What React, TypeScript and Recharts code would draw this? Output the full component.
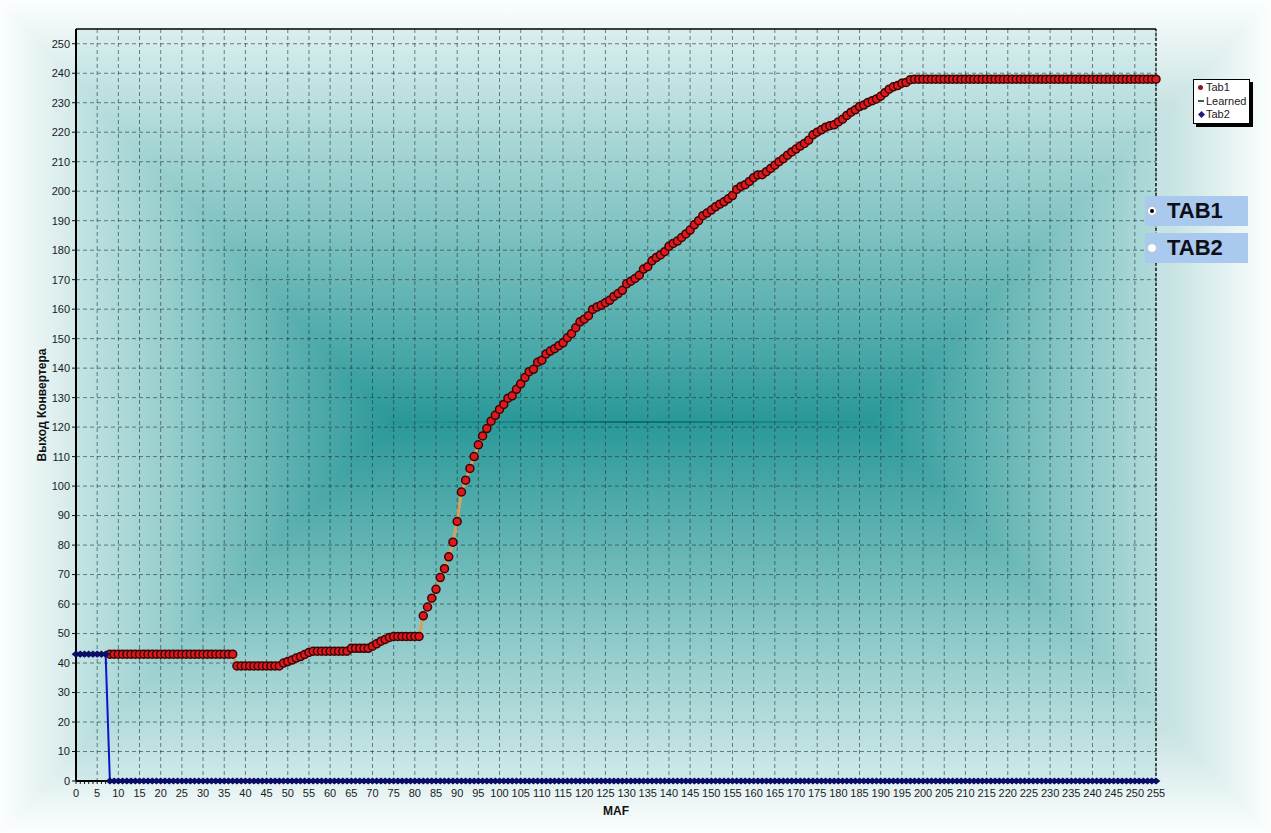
import { LineChart, Line, XAxis, YAxis, CartesianGrid, ReferenceLine, Legend } from "recharts";

const FONT = '"Liberation Sans", Arial, sans-serif';
const W = 1271;
const H = 833;

// Выход конвертера, MAF = индекс 0..255 (Tab1 на 0..7 не видна — её перекрывает Tab2)
const tab1 = [
  null, null, null, null, null, null, null, null, 43, 43,
  43, 43, 43, 43, 43, 43, 43, 43, 43, 43,
  43, 43, 43, 43, 43, 43, 43, 43, 43, 43,
  43, 43, 43, 43, 43, 43, 43, 43,
  39, 39, 39, 39, 39, 39, 39, 39, 39, 39, 39,
  40, 40.5, 41, 41.7, 42.2, 42.9, 43.6,
  44, 44, 44, 44, 44, 44, 44, 44, 44,
  45, 45, 45, 45, 45,
  45.7, 46.5, 47.4, 48, 48.7,
  49, 49, 49, 49, 49, 49, 49,
  56, 59, 62, 65, 69, 72, 76, 81, 88, 98,
  102, 106, 110, 114, 117, 119.5, 122, 124, 126, 127.7,
  129.8, 130.6, 132.8, 134.7, 136.8, 138.8, 139.6, 142, 142.7, 144.8,
  145.8, 146.6, 147.6, 148.6, 150.3, 151.7, 153.7, 155.7, 156.6, 157.8,
  159.9, 160.7, 161.3, 162.2, 163, 164.3, 165.3, 166.4, 168.6, 169.5,
  170.4, 171.5, 173.6, 174.4, 176.4, 177.5, 178.4, 179.5, 181.3, 182.3,
  183.1, 184.3, 185.5, 186.8, 188.6, 190, 191.7, 192.6, 193.6, 194.7,
  195.6, 196.4, 197.4, 198.5, 200.6, 201.6, 202.2, 203.3, 204.6, 205.5,
  205.6, 206.6, 207.7, 208.8, 210, 211, 212.2, 213.3, 214.3, 215.3,
  216.2, 217.3, 219.1, 220, 220.8, 221.7, 222.2, 222.5, 223.5, 224.4,
  225.7, 226.8, 227.6, 228.7, 229.2, 230.1, 230.7, 231.3, 232.2, 233.4,
  234.6, 235.4, 235.8, 236.6, 236.9, 237.8,
  238, 238, 238, 238, 238, 238, 238, 238, 238, 238,
  238, 238, 238, 238, 238, 238, 238, 238, 238, 238,
  238, 238, 238, 238, 238, 238, 238, 238, 238, 238,
  238, 238, 238, 238, 238, 238, 238, 238, 238, 238,
  238, 238, 238, 238, 238, 238, 238, 238, 238, 238,
  238, 238, 238, 238, 238, 238, 238, 238,
];

const tab2 = [
  43, 43, 43, 43, 43, 43, 43, 43,
  0, 0, 0, 0, 0, 0, 0, 0, 0, 0, 0, 0, 0, 0, 0, 0, 0, 0, 0, 0,
  0, 0, 0, 0, 0, 0, 0, 0, 0, 0, 0, 0, 0, 0, 0, 0, 0, 0, 0, 0,
  0, 0, 0, 0, 0, 0, 0, 0, 0, 0, 0, 0, 0, 0, 0, 0, 0, 0, 0, 0,
  0, 0, 0, 0, 0, 0, 0, 0, 0, 0, 0, 0, 0, 0, 0, 0, 0, 0, 0, 0,
  0, 0, 0, 0, 0, 0, 0, 0, 0, 0, 0, 0, 0, 0, 0, 0, 0, 0, 0, 0,
  0, 0, 0, 0, 0, 0, 0, 0, 0, 0, 0, 0, 0, 0, 0, 0, 0, 0, 0, 0,
  0, 0, 0, 0, 0, 0, 0, 0, 0, 0, 0, 0, 0, 0, 0, 0, 0, 0, 0, 0,
  0, 0, 0, 0, 0, 0, 0, 0, 0, 0, 0, 0, 0, 0, 0, 0, 0, 0, 0, 0,
  0, 0, 0, 0, 0, 0, 0, 0, 0, 0, 0, 0, 0, 0, 0, 0, 0, 0, 0, 0,
  0, 0, 0, 0, 0, 0, 0, 0, 0, 0, 0, 0, 0, 0, 0, 0, 0, 0, 0, 0,
  0, 0, 0, 0, 0, 0, 0, 0, 0, 0, 0, 0, 0, 0, 0, 0, 0, 0, 0, 0,
  0, 0, 0, 0, 0, 0, 0, 0, 0, 0, 0, 0, 0, 0, 0, 0, 0, 0, 0, 0,
  0, 0, 0, 0, 0, 0, 0, 0,
];

const xTicks = [
  0, 5, 10, 15, 20, 25, 30, 35, 40, 45, 50, 55, 60, 65, 70, 75, 80, 85, 90, 95,
  100, 105, 110, 115, 120, 125, 130, 135, 140, 145, 150, 155, 160, 165, 170, 175,
  180, 185, 190, 195, 200, 205, 210, 215, 220, 225, 230, 235, 240, 245, 250, 255,
];
const yTicks = [
  0, 10, 20, 30, 40, 50, 60, 70, 80, 90, 100, 110, 120, 130, 140, 150, 160, 170,
  180, 190, 200, 210, 220, 230, 240, 250,
];
const legendOrder = ["Tab1", "Learned", "Tab2"];
const tabNames = ["TAB1", "TAB2"];

const data = tab1.map((v, i) => ({ maf: i, tab1: v, tab2: tab2[i] }));
const minorTicks = data.map((d) => d.maf);

// фон: прямоугольный "path gradient" с фокусом-линией посередине
const FOCUS = { x0: 393, x1: 873, y: 422 };
const PLOT = { left: 76, top: 29, width: 1080, height: 752 };

function Facets({ id, stops }: { id: string; stops: [number, string][] }) {
  const { x0, x1, y } = FOCUS;
  const parts = [
    { k: "t", g: [0, 0, 0, y], pts: `0,0 ${W},0 ${x1},${y} ${x0},${y}` },
    { k: "b", g: [0, H, 0, y], pts: `0,${H} ${W},${H} ${x1},${y} ${x0},${y}` },
    { k: "l", g: [0, 0, x0, 0], pts: `0,0 0,${H} ${x0},${y}` },
    { k: "r", g: [W, 0, x1, 0], pts: `${W},0 ${W},${H} ${x1},${y}` },
  ];
  return (
    <g>
      <defs>
        {parts.map((p) => (
          <linearGradient
            key={p.k}
            id={`${id}-${p.k}`}
            gradientUnits="userSpaceOnUse"
            x1={p.g[0]}
            y1={p.g[1]}
            x2={p.g[2]}
            y2={p.g[3]}
          >
            {stops.map(([o, c]) => (
              <stop key={o} offset={o} stopColor={c} />
            ))}
          </linearGradient>
        ))}
      </defs>
      {parts.map((p) => (
        <polygon
          key={p.k}
          points={p.pts}
          fill={`url(#${id}-${p.k})`}
          stroke={`url(#${id}-${p.k})`}
          strokeWidth={1}
        />
      ))}
    </g>
  );
}

function Backdrop() {
  return (
    <svg width={W} height={H} style={{ position: "absolute", left: 0, top: 0 }}>
      <Facets
        id="outer"
        stops={[
          [0, "#fcfefe"],
          [0.25, "#c8e3e3"],
          [1, "#a0d0d0"],
        ]}
      />
      <defs>
        <clipPath id="plotClip">
          <rect x={PLOT.left} y={PLOT.top} width={PLOT.width} height={PLOT.height} />
        </clipPath>
        <linearGradient id="focusLine" x1="0" y1="0" x2="1" y2="0">
          <stop offset={0} stopColor="#0b6e6e" stopOpacity={0} />
          <stop offset={0.5} stopColor="#0b6e6e" stopOpacity={1} />
          <stop offset={1} stopColor="#0b6e6e" stopOpacity={0} />
        </linearGradient>
      </defs>
      <g clipPath="url(#plotClip)">
        <Facets
          id="plot"
          stops={[
            [0, "#e8f5f5"],
            [1, "#2a9898"],
          ]}
        />
        <rect x={FOCUS.x0} y={FOCUS.y - 1} width={FOCUS.x1 - FOCUS.x0} height={2} fill="url(#focusLine)" />
      </g>
    </svg>
  );
}

function XTick(props: any) {
  const { x, y, payload } = props;
  if (payload.value % 5 !== 0) return <g />;
  return (
    <text x={x} y={y} dy="0.71em" textAnchor="middle" fill="#1a1a1a" fontSize={11} fontFamily={FONT}>
      {payload.value}
    </text>
  );
}

function DiamondDot(props: any) {
  const { cx, cy } = props;
  if (cx == null || cy == null) return <g />;
  const s = 3.6;
  return (
    <path
      d={`M${cx},${cy - s}L${cx + s + 0.8},${cy}L${cx},${cy + s}L${cx - s - 0.8},${cy}Z`}
      fill="#0a0c66"
    />
  );
}

function LegendMark({ name }: { name: string }) {
  if (name === "Tab1")
    return <span style={{ width: 5, height: 5, borderRadius: 3, background: "#8a1c1c", display: "inline-block", marginRight: 3 }} />;
  if (name === "Learned")
    return <span style={{ width: 6, height: 2, background: "#2d6b3e", display: "inline-block", marginRight: 2 }} />;
  return (
    <svg width={7} height={7} style={{ marginRight: 1 }}>
      <path d="M3.5,0L7,3.5L3.5,7L0,3.5Z" fill="#1c1c7a" />
    </svg>
  );
}

function LegendBox(props: any) {
  const items = [...(props.payload || [])].sort(
    (a: any, b: any) => legendOrder.indexOf(a.value) - legendOrder.indexOf(b.value)
  );
  return (
    <div
      style={{
        background: "#fff",
        border: "1px solid #000",
        boxShadow: "3px 3px 0 #000",
        padding: "1px 3px 1px 4px",
        fontFamily: FONT,
        fontSize: 11,
        lineHeight: "13.5px",
        color: "#222",
      }}
    >
      {items.map((it: any) => (
        <div key={it.value} style={{ display: "flex", alignItems: "center" }}>
          <LegendMark name={it.value} />
          <span>{it.value}</span>
        </div>
      ))}
    </div>
  );
}

function TabSwitch() {
  return (
    <>
      {tabNames.map((name, i) => (
        <div
          key={name}
          style={{
            position: "absolute",
            left: 1145,
            top: 196 + i * 37,
            width: 103,
            height: 30,
            background: "#a9c9ee",
            display: "flex",
            alignItems: "center",
          }}
        >
          <span
            style={{
              width: 10,
              height: 10,
              borderRadius: 6,
              marginLeft: 2,
              background: "#fff",
              border: "1px solid #b8c4d0",
              boxSizing: "border-box",
              display: "flex",
              alignItems: "center",
              justifyContent: "center",
            }}
          >
            {i === 0 && <span style={{ width: 4, height: 4, borderRadius: 2, background: "#000" }} />}
          </span>
          <span
            style={{
              marginLeft: 10,
              fontFamily: FONT,
              fontWeight: "bold",
              fontSize: 22,
              color: "#0e0e16",
            }}
          >
            {name}
          </span>
        </div>
      ))}
    </>
  );
}

export default function App() {
  return (
    <div style={{ position: "absolute", left: 0, top: 0, width: W, height: H, overflow: "hidden" }}>
      <Backdrop />
      <div style={{ position: "absolute", left: 0, top: 0 }}>
        <LineChart width={W} height={H} data={data} margin={{ top: 29, right: 115, bottom: 16, left: 8 }}>
          <CartesianGrid
            stroke="#1f3535"
            strokeOpacity={0.6}
            strokeDasharray="4 3"
            verticalValues={xTicks}
            horizontalValues={yTicks}
          />
          <XAxis
            dataKey="maf"
            type="number"
            domain={[0, 255]}
            ticks={minorTicks}
            interval={0}
            height={36}
            tickSize={3}
            tickMargin={5}
            tick={<XTick />}
            tickLine={{ stroke: "#111" }}
            axisLine={{ stroke: "#000", strokeWidth: 2 }}
            label={{
              value: "MAF",
              position: "insideBottom",
              offset: 2,
              style: { fontFamily: FONT, fontWeight: "bold", fontSize: 12, fill: "#111" },
            }}
          />
          <YAxis
            type="number"
            domain={[0, 255]}
            ticks={yTicks}
            interval={0}
            width={68}
            tickSize={4}
            tickMargin={2}
            tick={{ fill: "#1a1a1a", fontSize: 11, fontFamily: FONT }}
            tickLine={{ stroke: "#111" }}
            axisLine={{ stroke: "#000", strokeWidth: 2 }}
            label={{
              value: "Выход Конвертера",
              angle: -90,
              position: "center",
              style: { fontFamily: FONT, fontWeight: "bold", fontSize: 12, fill: "#111" },
            }}
          />
          <ReferenceLine y={255} stroke="#000" strokeWidth={1.5} />
          <ReferenceLine x={255} stroke="#000" strokeWidth={1.2} strokeDasharray="3 2" />
          <Legend
            layout="vertical"
            align="center"
            verticalAlign="middle"
            content={<LegendBox />}
            wrapperStyle={{ left: 1193, top: 79, width: "auto" }}
          />
          <Line
            dataKey="tab1"
            name="Tab1"
            type="linear"
            stroke="#d5a15e"
            strokeWidth={3}
            dot={{ r: 4, fill: "#e0181c", stroke: "#3a0505", strokeWidth: 1.5 }}
            isAnimationActive={false}
          />
          <Line dataKey="learned" name="Learned" stroke="#2d6b3e" dot={false} isAnimationActive={false} />
          <Line
            dataKey="tab2"
            name="Tab2"
            type="linear"
            stroke="#0a14d0"
            strokeWidth={2}
            dot={<DiamondDot />}
            isAnimationActive={false}
          />
        </LineChart>
      </div>
      <TabSwitch />
    </div>
  );
}
